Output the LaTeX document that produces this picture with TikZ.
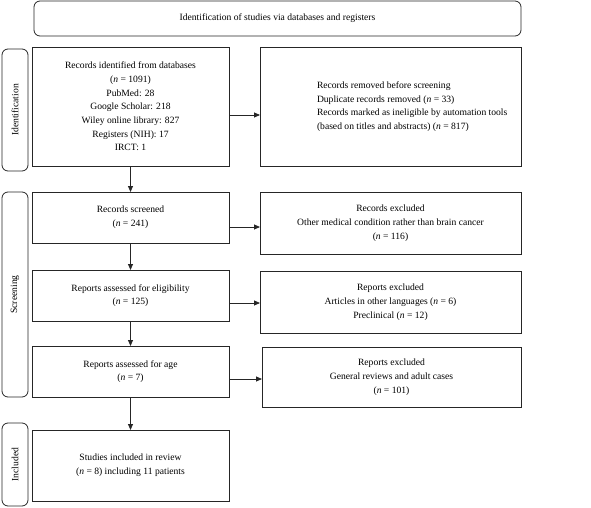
\documentclass[tikz,border=0pt]{standalone}
\usepackage{fontspec}
\setmainfont{Liberation Serif}
\usetikzlibrary{arrows.meta,calc}
\newcommand{\nn}{\textit{n}}
\begin{document}
\begin{tikzpicture}[x=1pt,y=-1pt,
  every node/.style={inner sep=0pt,outer sep=0pt},
  txt/.style={font=\fontsize{9.6}{13.7}\selectfont},
  box/.style={draw=black!85,line width=0.8pt,rectangle,anchor=north west,txt,align=center},
  rbox/.style={box,rounded corners=6pt},
  side/.style={rbox},
  arr/.style={draw=black!85,line width=0.8pt,-{Triangle[length=6pt,width=5pt]}}]
\useasboundingbox (0,0) rectangle (591,508);
% header
\node[rbox,minimum width=487pt,minimum height=35pt] (head) at (34,1) {Identification of studies via databases and registers};
% side labels
\node[side,minimum width=26pt,minimum height=122pt] (sid) at (2,49) {};
\node[txt,rotate=90] (sidt) at (sid.center) {Identification};
\node[side,minimum width=26pt,minimum height=205pt] (sscr) at (2,192) {};
\node[txt,rotate=90] (sscrt) at (sscr.center) {Screening};
\node[side,minimum width=26pt,minimum height=83pt] (sinc) at (2,423) {};
\node[txt,rotate=90] (sinct) at (sinc.center) {Included};
% left column
\node[box,minimum width=197pt,minimum height=119pt] (rid) at (32,47) {Records identified from databases\\(\nn{} = 1091)\\PubMed: 28\\Google Scholar: 218\\Wiley online library: 827\\Registers (NIH): 17\\IRCT: 1};
\node[box,minimum width=197pt,minimum height=51pt] (scr) at (32,192) {Records screened\\(\nn{} = 241)};
\node[box,minimum width=197pt,minimum height=51pt] (elig) at (32,270) {Reports assessed for eligibility\\(\nn{} = 125)};
\node[box,minimum width=197pt,minimum height=51pt] (age) at (32,346) {Reports assessed for age\\(\nn{} = 7)};
\node[box,minimum width=197pt,minimum height=71pt] (inc) at (32,430) {Studies included in review\\(\nn{} = 8) including 11 patients};
% right column
\node[box,minimum width=261pt,minimum height=119pt] (rem) at (260,47) {};
\node[txt,align=left,anchor=west] (remt) at ([xshift=57pt]rem.west) {Records removed before screening\\Duplicate records removed (\nn{} = 33)\\Records marked as ineligible by automation tools\\(based on titles and abstracts) (\nn{} = 817)};
\node[box,minimum width=261pt,minimum height=62pt] (exc1) at (260,192) {Records excluded\\Other medical condition rather than brain cancer\\(\nn{} = 116)};
\node[box,minimum width=261pt,minimum height=62pt] (exc2) at (260,271) {Reports excluded\\Articles in other languages (\nn{} = 6)\\Preclinical (\nn{} = 12)};
\node[box,minimum width=259pt,minimum height=60pt] (exc3) at (262,347) {Reports excluded\\General reviews and adult cases\\(\nn{} = 101)};
% vertical arrows
\draw[arr] (rid.south) -- (scr.north);
\draw[arr] (scr.south) -- (elig.north);
\draw[arr] (elig.south) -- (age.north);
\draw[arr] (age.south) -- (inc.north);
% horizontal arrows
\coordinate (h1) at ([yshift=-8.5pt]rid.east);
\draw[arr] (h1) -- (h1 -| rem.west);
\coordinate (h2) at ([yshift=-9.5pt]scr.east);
\draw[arr] (h2) -- (h2 -| exc1.west);
\coordinate (h3) at ([yshift=-7.5pt]elig.east);
\draw[arr] (h3) -- (h3 -| exc2.west);
\coordinate (h4) at ([yshift=-7.5pt]age.east);
\draw[arr] (h4) -- (h4 -| exc3.west);
\end{tikzpicture}
\end{document}
